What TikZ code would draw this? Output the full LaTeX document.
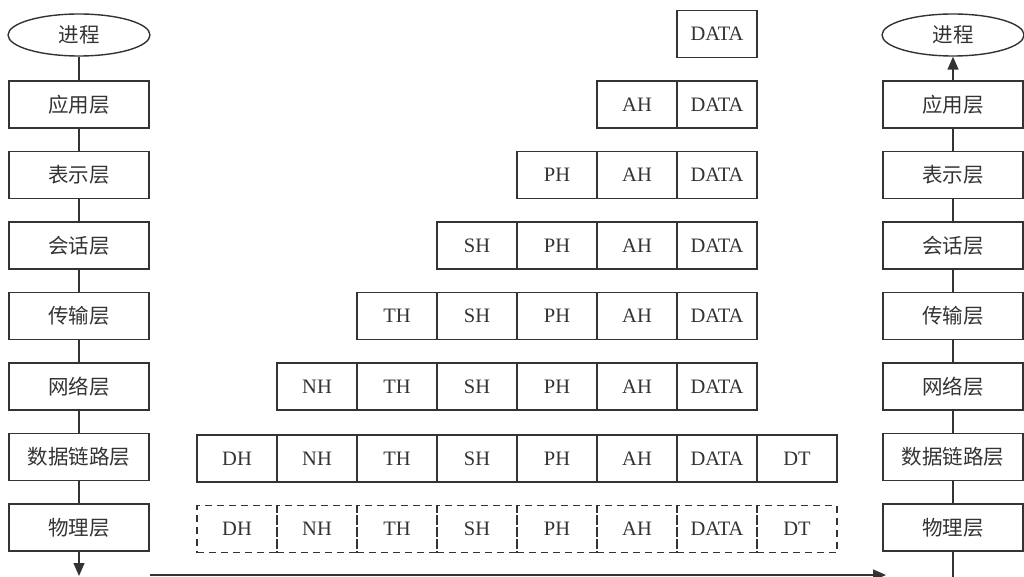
\documentclass[tikz,border=0pt]{standalone}
\usepackage{fontspec}
\setmainfont{Liberation Serif}
\newfontfamily\cjk{Noto Sans CJK SC}
\usetikzlibrary{shapes.geometric,arrows.meta}
\definecolor{ink}{HTML}{333333}
\tikzset{
  lw/.style={line width=1.4pt, draw=ink},
  layer/.style={lw, rectangle, minimum width=140pt, minimum height=47pt, inner sep=0pt, text=ink, font=\cjk\fontsize{20.5}{20.5}\selectfont},
  proc/.style={lw, ellipse, minimum width=142pt, minimum height=42pt, inner sep=0pt, text=ink, font=\cjk\fontsize{20.5}{20.5}\selectfont},
  cell/.style={lw, rectangle, minimum width=80pt, minimum height=47pt, inner sep=0pt, text=ink, font=\fontsize{20.5}{20.5}\selectfont},
  dcell/.style={cell, dashed, dash pattern=on 7pt off 5pt},
  link/.style={lw},
  arr/.style={lw, -{Triangle[width=11pt,length=13pt]}},
}
\begin{document}
\begin{tikzpicture}[x=1pt,y=-1pt]
\useasboundingbox (0,0) rectangle (1024,577);
% process ellipses
\node[proc] (lp) at (79,35) {进程};
\node[proc] (rp) at (953,35) {进程};
% layer columns
\foreach \n/\t [count=\k from 0] in {l0/应用层,l1/表示层,l2/会话层,l3/传输层,l4/网络层,l5/数据链路层,l6/物理层}{
  \node[layer] (\n) at (79,104.5+70.5*\k) {\t};
}
\foreach \n/\t [count=\k from 0] in {r0/应用层,r1/表示层,r2/会话层,r3/传输层,r4/网络层,r5/数据链路层,r6/物理层}{
  \node[layer] (\n) at (953,104.5+70.5*\k) {\t};
}
\draw[link] (lp) -- (l0);
\foreach \a/\b in {l0/l1,l1/l2,l2/l3,l3/l4,l4/l5,l5/l6,r0/r1,r1/r2,r2/r3,r3/r4,r4/r5,r5/r6}{
  \draw[link] (\a) -- (\b);
}
\coordinate (lb) at (79,576);
\coordinate (rb) at (953,577);
\draw[arr] (l6) -- (lb);
\draw[link] (rb) -- (r6);
\draw[arr] (r0) -- (rp);
% data cells
\node[cell] (dtop) at (717,34) {DATA};
% row 0
\node[cell] (c0a) at (637,104.5) {AH};
\node[cell] (c0d) at (717,104.5) {DATA};
% row 1
\node[cell] (c1p) at (557,175) {PH};
\node[cell] (c1a) at (637,175) {AH};
\node[cell] (c1d) at (717,175) {DATA};
% row 2
\node[cell] (c2s) at (477,245.5) {SH};
\node[cell] (c2p) at (557,245.5) {PH};
\node[cell] (c2a) at (637,245.5) {AH};
\node[cell] (c2d) at (717,245.5) {DATA};
% row 3
\node[cell] (c3t) at (397,316) {TH};
\node[cell] (c3s) at (477,316) {SH};
\node[cell] (c3p) at (557,316) {PH};
\node[cell] (c3a) at (637,316) {AH};
\node[cell] (c3d) at (717,316) {DATA};
% row 4
\node[cell] (c4n) at (317,386.5) {NH};
\node[cell] (c4t) at (397,386.5) {TH};
\node[cell] (c4s) at (477,386.5) {SH};
\node[cell] (c4p) at (557,386.5) {PH};
\node[cell] (c4a) at (637,386.5) {AH};
\node[cell] (c4d) at (717,386.5) {DATA};
% row 5
\foreach \x/\t/\n in {237/DH/dh,317/NH/nh,397/TH/th,477/SH/sh,557/PH/ph,637/AH/ah,717/DATA/da,797/DT/dt}{
  \node[cell] (c5\n) at (\x,458.5) {\t};
}
% row 6 dashed
\foreach \x/\t/\n in {237/DH/dh,317/NH/nh,397/TH/th,477/SH/sh,557/PH/ph,637/AH/ah,717/DATA/da,797/DT/dt}{
  \node[dcell] (c6\n) at (\x,529) {\t};
}
% bottom arrow
\coordinate (hs) at (150,575);
\coordinate (he) at (886,575);
\draw[arr] (hs) -- (he);
\end{tikzpicture}
\end{document}
